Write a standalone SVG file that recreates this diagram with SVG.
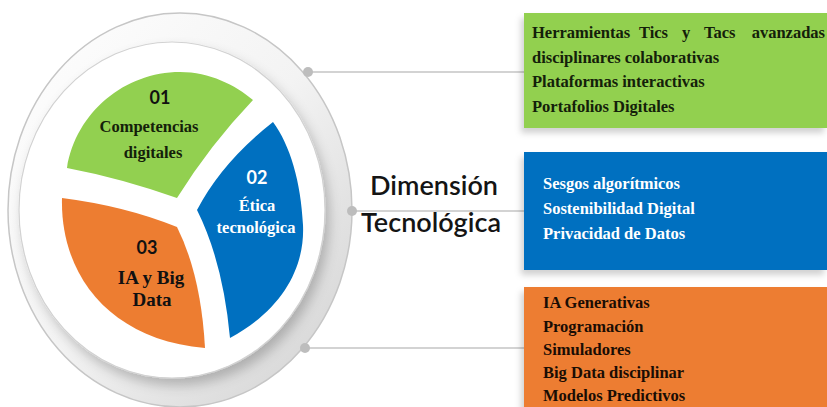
<svg xmlns="http://www.w3.org/2000/svg" width="827" height="407" viewBox="0 0 827 407">
  <defs>
    <linearGradient id="ringGrad" x1="0" y1="0" x2="1" y2="1">
      <stop offset="0" stop-color="#ffffff"/>
      <stop offset="0.5" stop-color="#f3f3f3"/>
      <stop offset="1" stop-color="#d0d0d0"/>
    </linearGradient>
    <filter id="discShadow" x="-20%" y="-20%" width="140%" height="140%">
      <feDropShadow dx="4" dy="7" stdDeviation="6" flood-color="#000" flood-opacity="0.22"/>
    </filter>
    <filter id="boxShadow" x="-10%" y="-20%" width="120%" height="150%">
      <feDropShadow dx="-3" dy="5" stdDeviation="3" flood-color="#000" flood-opacity="0.18"/>
    </filter>
    <style>
      .conn { stroke: #c4c4c4; stroke-width: 1.6; fill: none; }
      .dot { fill: #bdbdbd; }
      .num { font-family: Lato, "Liberation Sans", Arial, sans-serif; font-weight: bold; font-size: 18px; text-anchor: middle; }
      .lbl { font-family: "Liberation Serif", "Times New Roman", serif; font-weight: bold; text-anchor: middle; }
      .item { font-family: "Liberation Serif", "Times New Roman", serif; font-weight: bold; font-size: 16.5px; }
      .title { font-family: Lato, "Liberation Sans", Arial, sans-serif; font-weight: 600; font-size: 27px; fill: #141414; text-anchor: middle; }
    </style>
  </defs>

  <rect width="827" height="407" fill="#ffffff"/>

  <!-- ring -->
  <g id="ring">
    <ellipse cx="180" cy="210" rx="172" ry="197" fill="url(#ringGrad)" stroke="#c6c6c6" stroke-width="1.5"/>
    <ellipse cx="172" cy="210" rx="153" ry="168" fill="#ffffff" stroke="#d2d2d2" stroke-width="1.2" filter="url(#discShadow)"/>
  </g>

  <!-- connectors -->
  <g id="connectors">
    <line class="conn" x1="308" y1="72" x2="526" y2="72"/>
    <line class="conn" x1="352" y1="211" x2="526" y2="211"/>
    <line class="conn" x1="305" y1="348" x2="526" y2="348"/>
    <circle class="dot" cx="308" cy="72" r="5"/>
    <circle class="dot" cx="352" cy="211" r="5"/>
    <circle class="dot" cx="305" cy="348" r="5"/>
  </g>

  <!-- segment 01 -->
  <g id="seg01">
    <path d="M67,168 C76,112 125,72 180,72 C210,72 235,85 253,100 Q210,145 177,198 Q120,178 67,168 Z" fill="#92D050"/>
    <text class="num" x="160" y="104" fill="#111">01</text>
    <text class="lbl" x="149" y="132" font-size="16.5" fill="#14200a">Competencias</text>
    <text class="lbl" x="153" y="158" font-size="16.5" fill="#14200a">digitales</text>
  </g>

  <!-- segment 02 -->
  <g id="seg02">
    <path d="M273,122 Q222,162 197,210 Q223,262 230,338 C282,310 305,268 303,225 C301,182 290,145 273,122 Z" fill="#0070C0"/>
    <text class="num" x="257" y="184" fill="#ffffff">02</text>
    <text class="lbl" x="257" y="211" font-size="16.5" fill="#ffffff">Ética</text>
    <text class="lbl" x="256" y="233" font-size="16.5" fill="#ffffff">tecnológica</text>
  </g>

  <!-- segment 03 -->
  <g id="seg03">
    <path d="M62,198 Q125,206 177,227 Q201,275 205,348 C110,340 60,275 62,198 Z" fill="#ED7D31"/>
    <text class="num" x="147" y="254" fill="#111">03</text>
    <text class="lbl" x="151" y="284" font-size="19" fill="#111">IA y Big</text>
    <text class="lbl" x="152" y="306" font-size="19" fill="#111">Data</text>
  </g>

  <!-- title -->
  <g id="title">
    <text class="title" x="434" y="195">Dimensión</text>
    <text class="title" x="431" y="232">Tecnológica</text>
  </g>

  <!-- box green -->
  <g id="box1">
    <rect x="524" y="13" width="303" height="115" fill="#92D050" filter="url(#boxShadow)"/>
    <text class="item" y="38" fill="#14200a">
      <tspan x="532">Herramientas</tspan><tspan x="639">Tics</tspan><tspan x="682">y</tspan><tspan x="704">Tacs</tspan><tspan x="825" text-anchor="end">avanzadas</tspan>
    </text>
    <text class="item" x="532" y="63" fill="#14200a">disciplinares colaborativas</text>
    <text class="item" x="532" y="87" fill="#14200a">Plataformas interactivas</text>
    <text class="item" x="532" y="112" fill="#14200a">Portafolios Digitales</text>
  </g>

  <!-- box blue -->
  <g id="box2">
    <rect x="524" y="152" width="303" height="118" fill="#0070C0" filter="url(#boxShadow)"/>
    <text class="item" x="543" y="189" font-size="18" fill="#ffffff">Sesgos algorítmicos</text>
    <text class="item" x="543" y="214" font-size="18" fill="#ffffff">Sostenibilidad Digital</text>
    <text class="item" x="543" y="239" font-size="18" fill="#ffffff">Privacidad de Datos</text>
  </g>

  <!-- box orange -->
  <g id="box3">
    <rect x="524" y="287" width="303" height="125" fill="#ED7D31" filter="url(#boxShadow)"/>
    <text class="item" x="543" y="308" fill="#1a0d04">IA Generativas</text>
    <text class="item" x="543" y="332" fill="#1a0d04">Programación</text>
    <text class="item" x="543" y="355" fill="#1a0d04">Simuladores</text>
    <text class="item" x="543" y="378" fill="#1a0d04">Big Data disciplinar</text>
    <text class="item" x="543" y="401" fill="#1a0d04">Modelos Predictivos</text>
  </g>
</svg>
